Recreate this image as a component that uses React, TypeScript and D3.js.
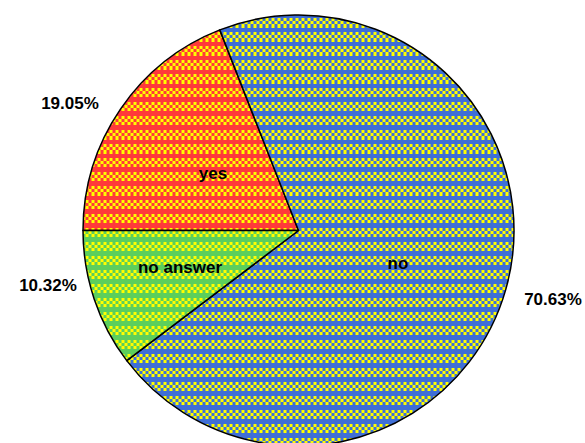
import React from "react";
import * as d3 from "d3";

const categories = ["yes", "no", "no answer"];
const values = [19.05, 70.63, 10.32];
const percentLabels = ["19.05%", "70.63%", "10.32%"];
const sliceColors = ["#ff3a3a", "#3f6fd6", "#5ccf5c"];
const patternIds = ["pat-yes", "pat-no", "pat-na"];

const W = 585;
const H = 443;
const cx = 298.5;
const cy = 230.5;
const R = 215.5;

const innerLabelPos: [number, number][] = [
  [213, 179],
  [398, 269],
  [180, 273],
];
const outerLabelPos: [number, number][] = [
  [70, 109],
  [553, 305],
  [48, 291],
];

export default function App() {
  const pie = d3
    .pie<number>()
    .sort(null)
    .value((d) => d)
    .startAngle(-Math.PI / 2)
    .endAngle((3 * Math.PI) / 2);
  const arcs = pie(values);
  const arc = d3.arc<d3.PieArcDatum<number>>().innerRadius(0).outerRadius(R);

  const cell = 3;
  const band = 5;
  const period = 14;

  return (
    <svg
      width={W}
      height={H}
      style={{ position: "absolute", left: 0, top: 0, background: "#fff" }}
      fontFamily="Liberation Sans, Arial, sans-serif"
    >
      <defs>
        {sliceColors.map((c, i) => (
          <pattern
            key={i}
            id={patternIds[i]}
            patternUnits="userSpaceOnUse"
            width={cell * 2}
            height={period}
            x={0}
            y={cy % period}
          >
            <rect width={cell * 2} height={period} fill="#ffff00" />
            <rect width={cell * 2} height={band} fill={c} />
            {d3.range(Math.floor((period - band) / cell)).map((r) => (
              <rect
                key={r}
                x={r % 2 === 0 ? 0 : cell}
                y={band + r * cell}
                width={cell}
                height={cell}
                fill={c}
              />
            ))}
          </pattern>
        ))}
      </defs>
      <g transform={`translate(${cx},${cy})`}>
        {arcs.map((a, i) => (
          <path
            key={categories[i]}
            d={arc(a) || ""}
            fill={`url(#${patternIds[i]})`}
            stroke="#000"
            strokeWidth={1.5}
            strokeLinejoin="round"
          />
        ))}
      </g>
      {categories.map((c, i) => (
        <text
          key={c}
          x={innerLabelPos[i][0]}
          y={innerLabelPos[i][1]}
          textAnchor="middle"
          fontSize={17}
          fontWeight="bold"
          fill="#000"
        >
          {c}
        </text>
      ))}
      {percentLabels.map((p, i) => (
        <text
          key={p}
          x={outerLabelPos[i][0]}
          y={outerLabelPos[i][1]}
          textAnchor="middle"
          fontSize={17}
          fontWeight="bold"
          fill="#000"
        >
          {p}
        </text>
      ))}
    </svg>
  );
}
